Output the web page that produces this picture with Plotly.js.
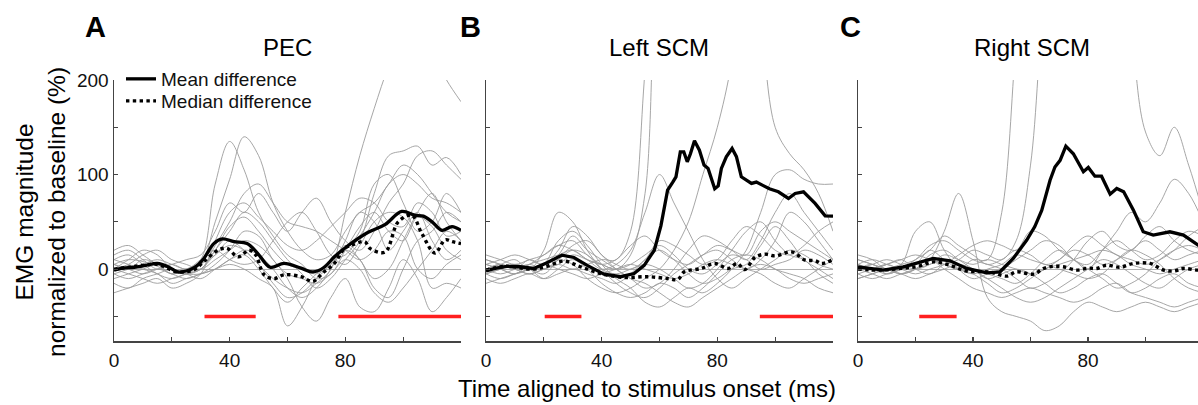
<!DOCTYPE html>
<html>
<head>
<meta charset="utf-8">
<script src="https://cdn.plot.ly/plotly-3.0.1.min.js"></script>
<style>html,body{margin:0;padding:0;background:#fff;}#chart{width:1198px;height:405px;}</style>
</head>
<body>
<div id="chart"></div>
<script>
// ---------- DATA ----------
const panelLetters = ['A', 'B', 'C'];
const panelTitles = ['PEC', 'Left SCM', 'Right SCM'];
const xTickVals = [0, 20, 40, 60, 80, 100, 120];
const xTickText = ['0', '', '40', '', '80', '', ''];
const yTickVals = [-50, 0, 50, 100, 150, 200];
const yTickText = ['', '0', '', '100', '', '200'];
const xTitle = 'Time aligned to stimulus onset (ms)';
const yTitle = 'EMG magnitude<br>normalized to baseline (%)';
const legendNames = ['Mean difference', 'Median difference'];

// common time grid of the individual (gray) traces, ms
const trialTime = [0,5,10,15,20,25,30,35,40,45,50,55,60,65,70,75,80,85,90,95,100,105,110,115,120];

// Panel A - PEC individual traces (%)
const pecTrials = [
  [5,10,8,3,-5,0,10,90,135,105,60,35,15,5,-10,-5,20,45,60,40,30,55,45,20,10],
  [-5,0,5,10,5,0,5,50,95,140,120,70,40,20,10,15,40,60,70,90,110,100,80,60,50],
  [10,15,5,-5,-10,-5,0,15,25,20,5,-10,-20,-25,-15,0,60,120,170,215,250,260,230,200,177],
  [0,-5,-10,-15,-10,-5,0,20,40,60,50,30,10,-5,-20,-10,10,30,80,120,125,130,110,118,100],
  [15,20,10,0,5,10,15,40,70,60,80,60,40,60,75,50,30,20,40,70,90,120,125,110,95],
  [-15,-20,-10,-5,0,-5,-10,0,10,20,15,0,-20,-30,-20,0,30,60,50,20,40,60,30,10,20],
  [0,5,15,20,10,5,0,10,20,30,25,10,-10,-40,-55,-30,-10,-40,-45,-20,10,-10,-45,-30,-10],
  [-25,-20,-15,-10,-20,-15,-5,30,60,70,55,40,25,20,30,45,60,75,70,50,45,70,60,35,40],
  [20,25,15,5,0,-5,-5,0,5,0,-10,-20,-60,-40,-10,10,20,10,-20,-30,0,30,40,60,50],
  [5,0,-5,0,5,0,10,20,10,5,10,30,50,60,40,15,5,25,50,60,55,30,-20,-15,-20],
  [10,5,0,-5,-15,-10,-5,5,20,40,35,10,-5,-10,-15,-5,10,0,-25,-35,-20,0,20,40,30],
  [-10,-5,0,5,0,-5,0,20,45,55,40,20,5,0,-5,5,20,40,90,100,70,40,50,80,60],
  [0,10,20,15,0,-5,5,15,30,20,5,-15,-30,-25,-10,5,25,10,-10,0,30,60,80,50,30],
  [-5,-10,-5,0,-5,-10,-5,0,10,15,0,-20,-35,-20,-5,10,15,35,60,90,100,90,75,70,60],
  [5,0,10,5,-5,0,0,25,50,80,90,70,50,45,40,30,20,10,20,40,35,0,-10,5,15]
];
const pecMeanT = [0,3,7,11,15,19,22,25,28,31,34.5,37.5,41.5,46,49.6,54,58.8,64.7,68.8,72.7,76.2,81,87.9,93.7,99.5,104,107,110,113.4,116.9,120];
const pecMeanV = [-1,1,2,4,6,2,-3,-2,2,11,27,32,29,27,17,2,6,1,-3,2,13,25,39,47,61,57,56,50,41,45,41];
const pecMedT = [0,5,10,15,22,28,31,36,39,43,46.7,49,51.9,55.4,58.8,64.7,68.8,72.2,76.2,79.7,82,86.7,88.5,93.7,98.3,103,106.4,111,114.5,117,120];
const pecMedV = [0,2,4,5,-3,0,8,20,22,13,20,15,-6,-10,-6,-8,-13,-4,6,22,25,29,22,18,50,57,38,17,31,29,27];
const pecSig = [[31.3, 49], [77.6, 120]];

// Panel B - Left SCM individual traces (%)
const lscmTrials = [
  [0,5,0,-5,0,5,0,5,10,10,40,210,400,400,400,400,400,400,400,400,400,400,400,400,400],
  [5,0,-5,5,10,15,20,10,5,0,15,80,350,400,400,400,400,400,350,260,150,122,105,80,40],
  [-5,-10,-5,0,5,10,5,-10,-20,-25,-20,-10,0,20,50,100,150,220,350,400,400,400,400,400,400],
  [10,5,0,5,15,25,20,10,0,5,20,60,100,70,40,10,-10,-20,-10,0,10,20,15,5,0],
  [0,5,10,0,20,60,50,20,0,-15,-25,-30,-20,-5,5,15,20,10,0,10,30,60,50,30,10],
  [-15,-10,-5,0,5,30,40,25,5,-10,-20,-35,-40,-30,-20,-25,-15,0,20,60,100,105,95,90,90],
  [5,10,15,10,5,15,35,20,10,0,-10,-20,-15,0,20,35,30,20,10,30,60,80,60,40,20],
  [-5,0,5,0,-5,10,25,30,15,0,-10,-15,-25,-35,-40,-30,-20,-10,0,5,0,-10,-15,-10,-5],
  [10,5,0,-5,0,5,15,10,5,10,25,35,20,10,5,15,25,20,15,40,50,40,30,20,10],
  [-10,-15,-10,-5,-10,0,10,0,-15,-25,-30,-25,-15,-20,-30,-20,-5,10,15,10,0,-5,-10,-20,-25],
  [0,5,0,10,5,20,45,35,15,5,0,10,30,25,15,5,10,30,45,35,20,15,25,40,50],
  [5,0,-5,0,5,0,-5,-10,-5,0,5,0,-5,-10,-5,5,10,5,0,-5,-15,-20,-10,0,10],
  [0,-5,0,5,0,10,20,15,0,-5,0,5,0,-10,-20,-15,0,20,40,50,30,15,10,-5,-15],
  [15,10,5,10,15,25,30,15,5,0,5,15,25,15,0,-5,5,15,10,0,5,10,20,15,5],
  [-5,0,5,0,-10,-5,0,-5,-10,-15,-5,10,20,10,-5,-15,-10,0,5,25,45,30,10,0,-10]
];
const lscmMeanT = [0,3.5,7.2,11.8,16.5,21.1,26.3,30.4,35,40.8,46.6,51.2,54.7,58.2,60.5,62.8,64.6,65.7,67.2,68.4,69.6,70.7,72.1,73.8,75.4,76.8,79.1,80.3,81.4,83.1,85.1,86.6,88.3,91.8,93.5,95.3,98,101.1,104.6,106.9,109.8,113.8,117.3,120];
const lscmMeanV = [-2,1,3,2.5,0.7,6.7,14.8,12.3,4,-5.3,-8,-4.6,4,20,46,83.5,92,97.6,124,124,113.5,122,135.7,125.8,110,106.5,85,88,106.5,118.8,127.6,119,97.6,90.6,92,88.8,85,81.8,74.7,80,81.8,69.5,56.4,56];
const lscmMedT = [0,7,16,21,26.9,32.7,40,47.8,55.9,62.9,66.3,68.6,74.4,79.1,83.7,86.9,89.5,93,96.5,100,105.7,110.4,113.8,116,120];
const lscmMedV = [-1,3,0,3,8.5,2.5,-5,-8.8,-8,-10,-11,-2.8,0.7,6,0.7,6,-0.4,12.3,15.8,14,18.3,9.5,9,6,10];
const lscmSig = [[20.3, 33], [94.7, 120]];

// Panel C - Right SCM individual traces (%)
const rscmTrials = [
  [0,5,-5,0,5,10,5,0,10,10,60,240,400,400,400,400,400,400,400,400,400,400,400,400,400],
  [5,0,5,10,0,-5,5,10,20,15,10,30,110,300,400,400,400,400,400,260,145,120,150,110,60],
  [10,5,0,-5,0,10,40,80,30,-30,-45,-50,-55,-65,-60,-45,-35,-40,-45,-40,-35,-40,-45,-40,-35],
  [15,10,0,5,40,50,20,0,-10,-5,0,10,20,30,25,10,5,20,30,20,10,15,30,40,35],
  [0,-5,-10,-5,0,5,10,5,0,-5,-10,-15,-5,10,20,10,0,20,40,60,50,70,95,80,50],
  [-10,-5,0,5,10,25,30,20,10,5,0,-10,-20,-15,-5,10,30,40,25,20,35,45,30,20,15],
  [5,10,5,0,-5,0,5,15,25,30,25,20,40,35,20,10,0,-10,-20,-15,-5,10,20,25,20],
  [-5,0,5,0,5,10,0,-10,-20,-25,-30,-25,-20,-25,-30,-35,-30,-20,-15,-25,-30,-35,-40,-35,-30],
  [0,5,10,5,0,5,15,10,5,10,5,0,-5,0,10,20,15,5,10,20,30,20,10,15,20],
  [10,5,0,-5,0,15,20,10,0,-10,-20,-30,-35,-30,-20,-10,0,10,5,-5,-15,-20,-10,0,5],
  [-5,-10,-5,0,5,20,10,0,-5,0,5,15,10,5,0,-5,-10,-5,10,20,15,5,-10,-20,-25],
  [0,0,5,10,15,10,5,0,-5,-15,-25,-20,-10,0,5,10,15,20,15,5,0,-5,0,5,10],
  [5,0,-5,0,10,20,35,25,15,5,10,20,15,5,10,25,35,25,15,10,5,10,20,35,45],
  [-10,-5,0,-5,-10,-5,0,5,0,-10,-5,0,-5,-15,-25,-20,-10,-5,-15,-25,-20,-10,-5,-15,-20]
];
const rscmMeanT = [0,8.8,15.8,20.4,26.2,32,37.8,44.8,49.4,54,58.7,61.5,63.9,66.8,68.5,70.3,72.3,74.9,78.4,80.1,82.4,84.7,87.7,90,92.4,95.8,99.2,102.7,108.5,113.2,118.3,120];
const rscmMeanV = [2.5,-1,2.5,6,11.3,8.8,0.7,-3.9,-2.8,11.3,30.7,45,62,94,108,115,130,122,103,107.5,98.3,98.3,79.3,85.3,81.8,62.4,39.5,36,39.5,36,25.4,22];
const rscmMedT = [0,8,15.8,21,26.2,32,37.8,45.7,51.7,55.1,61,64.5,68,71.4,76,80,83,86.5,91,95.8,101.6,106.3,110,113.2,118.3,120];
const rscmMedV = [0,-1,1,3,7.7,4,-2,-3,-7.4,-2.8,-5.3,0.7,3,2.5,-1,1,0.7,4.2,2,6,6,-1,-2,0.7,-1,0];
const rscmSig = [[21.3, 34.3]];

const sigLevel = -50;

// ---------- BUILD ----------
const panels = [
  {trials: pecTrials, mT: pecMeanT, mV: pecMeanV, dT: pecMedT, dV: pecMedV, sig: pecSig, shape: 'spline'},
  {trials: lscmTrials, mT: lscmMeanT, mV: lscmMeanV, dT: lscmMedT, dV: lscmMedV, sig: lscmSig, shape: 'linear'},
  {trials: rscmTrials, mT: rscmMeanT, mV: rscmMeanV, dT: rscmMedT, dV: rscmMedV, sig: rscmSig, shape: 'linear'}
];

const traces = [];
panels.forEach((p, i) => {
  const xa = i === 0 ? 'x' : 'x' + (i + 1);
  const ya = i === 0 ? 'y' : 'y' + (i + 1);
  p.trials.forEach(tr => {
    traces.push({x: trialTime, y: tr, xaxis: xa, yaxis: ya, type: 'scatter', mode: 'lines',
      line: {color: '#9c9c9c', width: 0.9, shape: 'spline', smoothing: 1}, showlegend: false, hoverinfo: 'skip'});
  });
  p.sig.forEach(s => {
    traces.push({x: s, y: [sigLevel, sigLevel], xaxis: xa, yaxis: ya, type: 'scatter', mode: 'lines',
      line: {color: '#ff1f1f', width: 3.5}, showlegend: false, hoverinfo: 'skip'});
  });
  traces.push({x: p.mT, y: p.mV, xaxis: xa, yaxis: ya, type: 'scatter', mode: 'lines', name: legendNames[0],
    line: {color: '#000', width: 3.3, shape: p.shape}, showlegend: i === 0, legend: 'legend'});
  traces.push({x: p.dT, y: p.dV, xaxis: xa, yaxis: ya, type: 'scatter', mode: 'lines', name: legendNames[1],
    line: {color: '#000', width: 3.4, dash: 'dot', shape: 'spline'}, showlegend: i === 0, legend: 'legend2'});
});

const W = 1198, H = 405;
const px = v => v / W;
const py = v => 1 - v / H;
const FONT = 'Liberation Sans, Arial, Helvetica, sans-serif';

function xAxis(dom, rng, anchor) {
  return {domain: dom, range: rng, anchor: anchor, showgrid: false, zeroline: false,
    showline: true, linecolor: '#444', linewidth: 1.5, ticks: 'inside', ticklen: 4, tickwidth: 1.2, tickcolor: '#444',
    tickvals: xTickVals, ticktext: xTickText, tickfont: {size: 19, family: FONT, color: '#111'},
    ticklabelstandoff: 2, fixedrange: true};
}
function yAxis(dom, anchor, labels) {
  return {domain: dom, range: [-76, 200], anchor: anchor, showgrid: false,
    zeroline: true, zerolinecolor: '#b0b0b0', zerolinewidth: 1,
    showline: true, linecolor: '#444', linewidth: 1.5, ticks: 'inside', ticklen: 4, tickwidth: 1.2, tickcolor: '#444',
    tickvals: yTickVals, ticktext: labels ? yTickText : yTickVals.map(() => ''),
    tickfont: {size: 19, family: FONT, color: '#111'}, fixedrange: true};
}
const yDom = [py(341), py(80)];
const legendBase = {xanchor: 'left', yanchor: 'top', bgcolor: 'rgba(0,0,0,0)', borderwidth: 0,
  font: {size: 19, family: FONT, color: '#111'}, itemwidth: 30, tracegroupgap: 0};

const layout = {
  width: W, height: H, margin: {l: 0, r: 0, t: 0, b: 0},
  paper_bgcolor: '#fff', plot_bgcolor: 'rgba(0,0,0,0)',
  font: {family: FONT, color: '#111'},
  xaxis: xAxis([px(114), px(461)], [0, 120], 'y'),
  yaxis: yAxis(yDom, 'x', true),
  xaxis2: xAxis([px(486), px(833)], [0, 120], 'y2'),
  yaxis2: yAxis(yDom, 'x2', false),
  xaxis3: xAxis([px(858), 1], [0, 118.26], 'y3'),
  yaxis3: yAxis(yDom, 'x3', false),
  showlegend: true,
  legend: Object.assign({x: px(121), y: py(60)}, legendBase),
  legend2: Object.assign({x: px(121), y: py(82)}, legendBase),
  annotations: [
    {text: '<b>' + panelLetters[0] + '</b>', x: px(95), y: py(27)},
    {text: '<b>' + panelLetters[1] + '</b>', x: px(470), y: py(27)},
    {text: '<b>' + panelLetters[2] + '</b>', x: px(850), y: py(27)},
  ].map(a => Object.assign(a, {xref: 'paper', yref: 'paper', showarrow: false, xanchor: 'center', yanchor: 'middle',
    font: {size: 29, family: FONT, color: '#000'}})).concat([
    {text: panelTitles[0], x: px(287), y: py(48)},
    {text: panelTitles[1], x: px(659), y: py(48)},
    {text: panelTitles[2], x: px(1032), y: py(48)},
    {text: xTitle, x: px(647), y: py(388)},
  ].map(a => Object.assign(a, {xref: 'paper', yref: 'paper', showarrow: false, xanchor: 'center', yanchor: 'middle',
    font: {size: 24, family: FONT, color: '#000'}}))).concat([
    {text: yTitle, x: px(40), y: py(212), textangle: -90, xref: 'paper', yref: 'paper', showarrow: false,
      xanchor: 'center', yanchor: 'middle', font: {size: 24.5, family: FONT, color: '#000'}}
  ])
};

Plotly.newPlot('chart', traces, layout, {displayModeBar: false, staticPlot: true});
</script>
</body>
</html>
